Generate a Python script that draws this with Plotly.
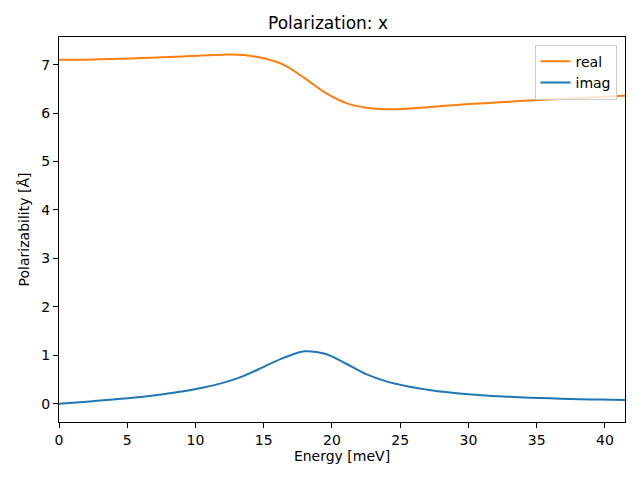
import plotly.graph_objects as go

energy = [0, 1.5, 3, 4.5, 6, 7.5, 9, 10.5, 12, 13.5, 15, 16.5, 18, 19.5, 21, 22.5,
          24, 25.5, 27, 28.5, 30, 31.5, 33, 34.5, 36, 37.5, 39, 40.5, 41.5]
real_vals = [7.10, 7.10, 7.11, 7.12, 7.135, 7.15, 7.17, 7.19, 7.205, 7.20, 7.13, 6.99, 6.72,
             6.42, 6.21, 6.11, 6.08, 6.09, 6.12, 6.155, 6.185, 6.21, 6.235, 6.26, 6.28, 6.30,
             6.32, 6.345, 6.355]
imag_vals = [0.00, 0.03, 0.065, 0.10, 0.14, 0.19, 0.25, 0.33, 0.43, 0.57, 0.76, 0.95, 1.08,
             1.03, 0.83, 0.61, 0.46, 0.36, 0.29, 0.235, 0.195, 0.165, 0.145, 0.125, 0.11, 0.098,
             0.088, 0.08, 0.075]
x_ticks = [0, 5, 10, 15, 20, 25, 30, 35, 40]
y_ticks = [0, 1, 2, 3, 4, 5, 6, 7]

fig = go.Figure()
fig.add_trace(go.Scatter(x=energy, y=real_vals, mode="lines", name="real",
                         line=dict(color="#ff7f0e", width=2, shape="spline", smoothing=1.0)))
fig.add_trace(go.Scatter(x=energy, y=imag_vals, mode="lines", name="imag",
                         line=dict(color="#1f77b4", width=2, shape="spline", smoothing=1.0)))

font = "DejaVu Sans"
axis_common = dict(showline=True, linecolor="black", linewidth=1, mirror=True,
                   ticks="outside", ticklen=5, tickcolor="black", showgrid=False,
                   zeroline=False, automargin=False,
                   tickfont=dict(family=font, size=14, color="black"))

fig.update_layout(
    width=640, height=480,
    margin=dict(l=51, r=23, t=29, b=66, pad=0),
    paper_bgcolor="white", plot_bgcolor="white",
    title=dict(text="Polarization: x", x=0.5, xanchor="center", y=0.969, yanchor="middle",
               automargin=False,
               font=dict(family=font, size=17, color="black")),
    xaxis=dict(range=[0, 41.47], tickvals=x_ticks,
               title=dict(text="Energy [meV]", font=dict(family=font, size=14, color="black"), standoff=4),
               **axis_common),
    yaxis=dict(range=[-0.378, 7.57], tickvals=y_ticks,
               title=dict(text="Polarizability [Å]", font=dict(family=font, size=14, color="black"), standoff=8),
               **axis_common),
    legend=dict(x=0.985, y=0.98, xanchor="right", yanchor="top",
                bordercolor="#cccccc", borderwidth=1, bgcolor="rgba(255,255,255,0.8)",
                font=dict(family=font, size=14, color="black")),
    showlegend=True,
)

fig.write_html("out.html")
